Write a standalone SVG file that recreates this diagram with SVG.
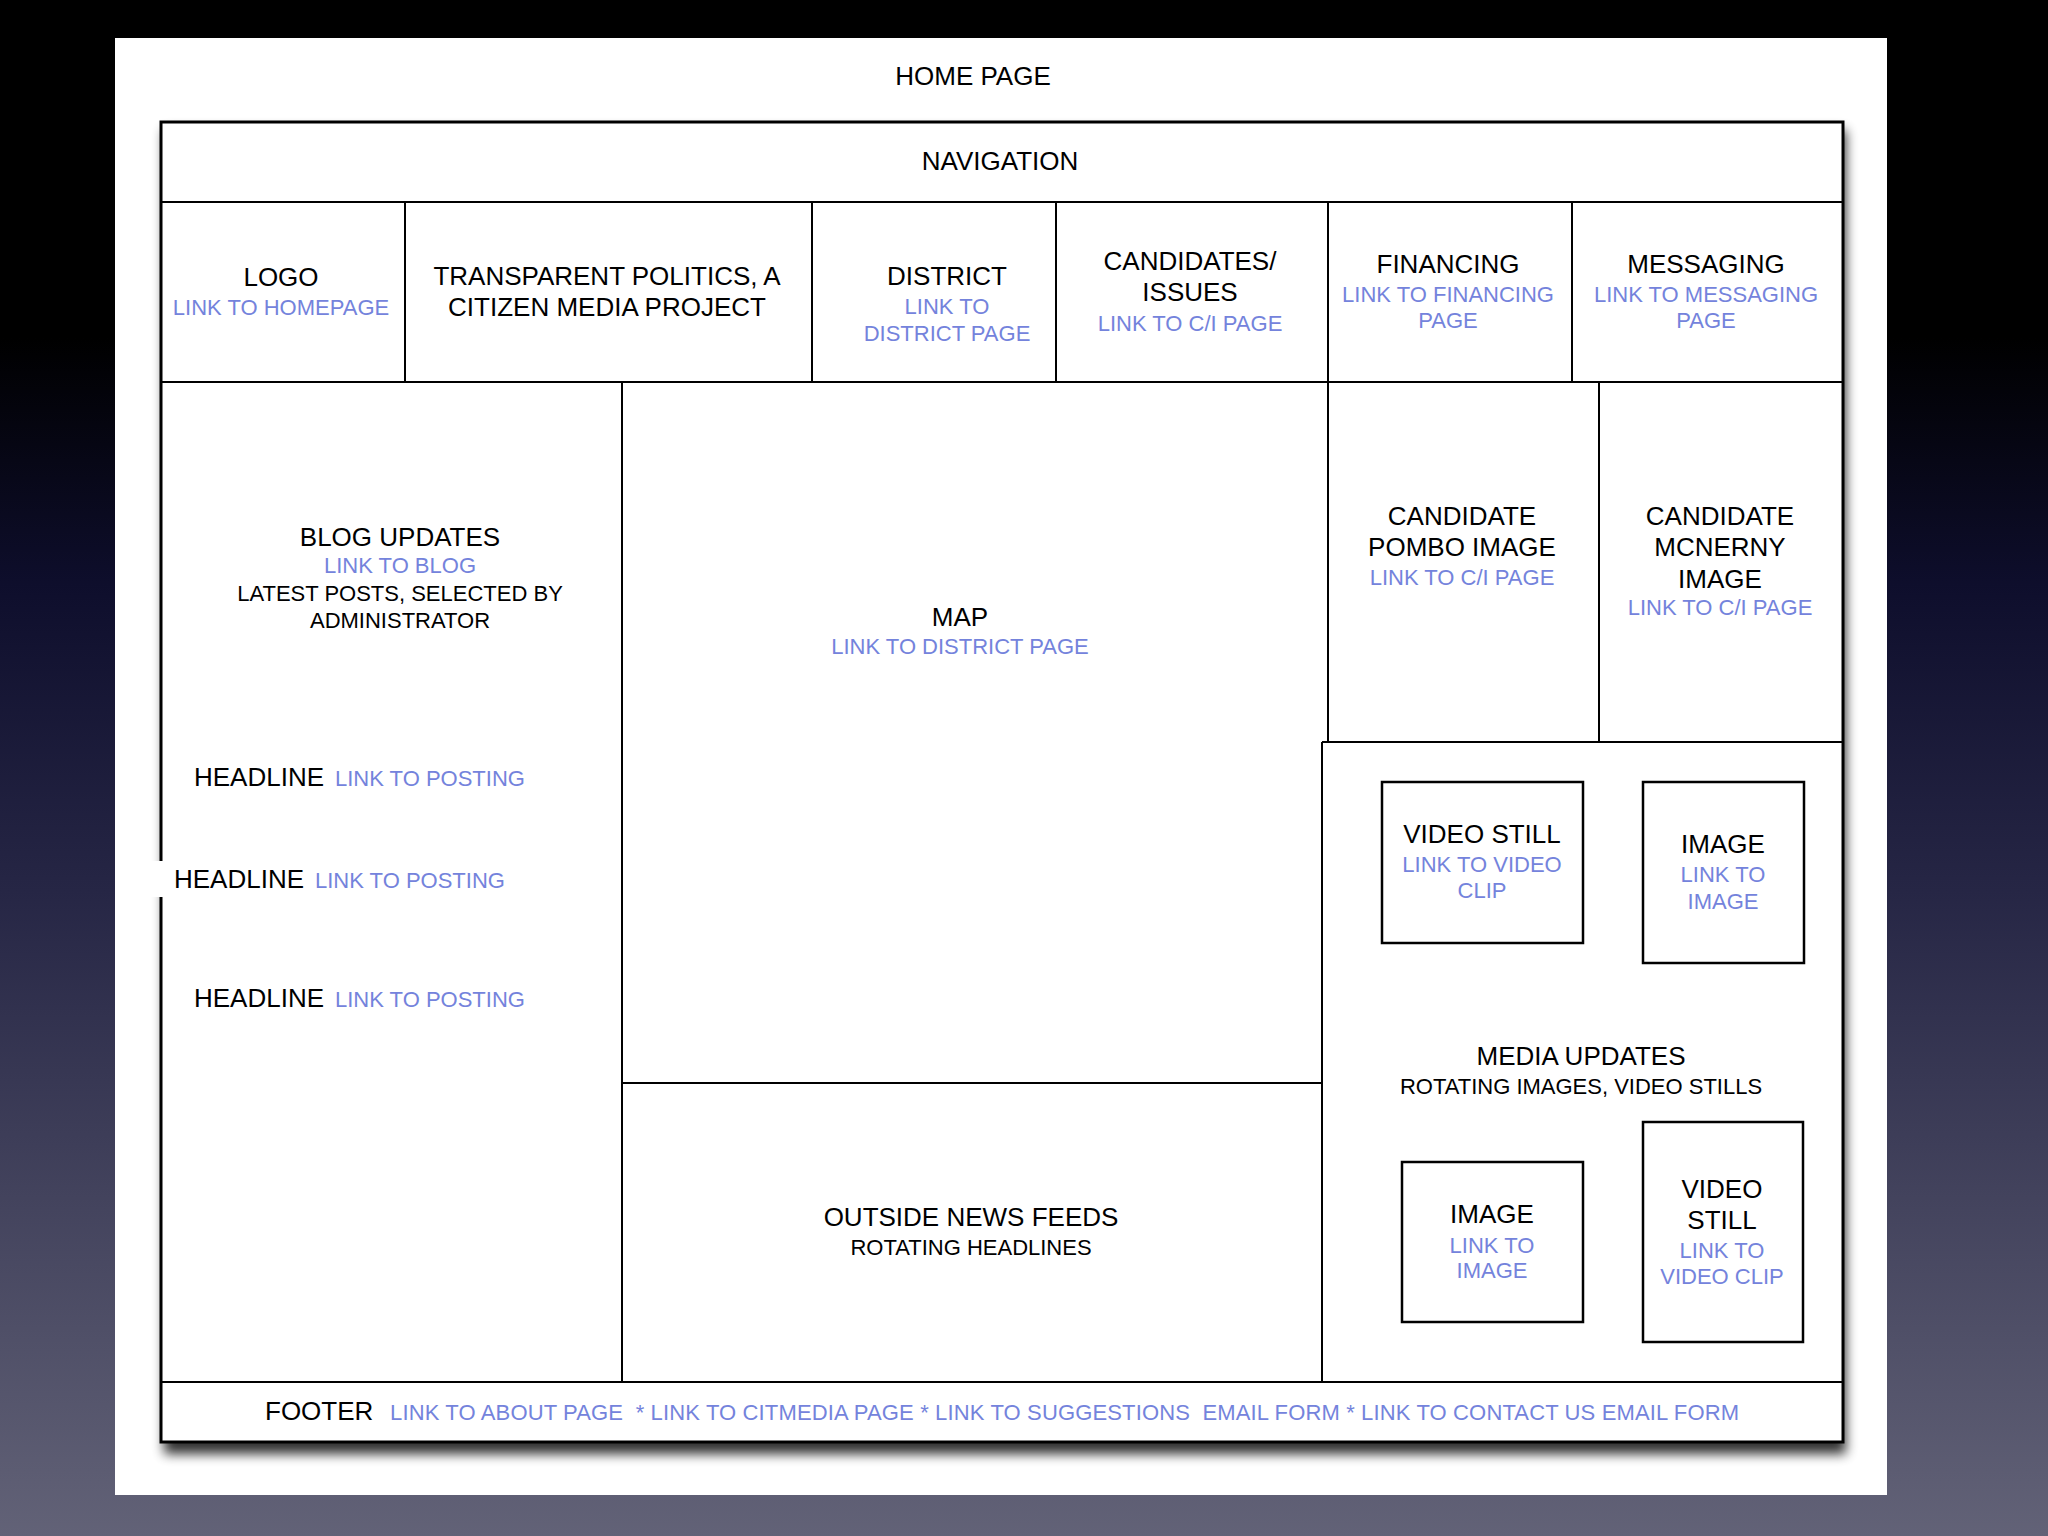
<svg xmlns="http://www.w3.org/2000/svg" width="2048" height="1536" viewBox="0 0 2048 1536">
<defs>
<linearGradient id="bg" x1="0" y1="0" x2="0" y2="1">
<stop offset="0" stop-color="#000000"/>
<stop offset="0.22" stop-color="#000000"/>
<stop offset="0.38" stop-color="#0e0e2c"/>
<stop offset="0.58" stop-color="#262645"/>
<stop offset="0.78" stop-color="#43435d"/>
<stop offset="1" stop-color="#626277"/>
</linearGradient>
<filter id="shadow" x="-5%" y="-5%" width="110%" height="112%">
<feGaussianBlur stdDeviation="6"/>
</filter>
<style>
text{font-family:"Liberation Sans",Arial,Helvetica,sans-serif;text-anchor:middle;fill:#000}
.t{font-size:26px}
.s{font-size:22px}
.l{font-size:22px;fill:#7483dc}
.st{text-anchor:start}
.ln{stroke:#000;stroke-width:2;fill:none}
.box{stroke:#000;stroke-width:2.5;fill:#fff}
</style>
</defs>
<rect x="0" y="0" width="2048" height="1536" fill="url(#bg)"/>
<rect x="115" y="38" width="1772" height="1457" fill="#fff"/>
<rect x="164" y="130" width="1682" height="1324" fill="#000" opacity="0.8" filter="url(#shadow)"/>
<rect id="frame" x="161" y="122" width="1682" height="1320" fill="#fff" stroke="#000" stroke-width="3"/>

<g id="connectors">
<line class="ln" x1="161" y1="202" x2="1843" y2="202"/>
<line class="ln" x1="161" y1="382" x2="1843" y2="382"/>
<line class="ln" x1="405" y1="202" x2="405" y2="382"/>
<line class="ln" x1="812" y1="202" x2="812" y2="382"/>
<line class="ln" x1="1056" y1="202" x2="1056" y2="382"/>
<line class="ln" x1="1328" y1="202" x2="1328" y2="382"/>
<line class="ln" x1="1572" y1="202" x2="1572" y2="382"/>
<line class="ln" x1="622" y1="382" x2="622" y2="1382"/>
<line class="ln" x1="622" y1="1083" x2="1322" y2="1083"/>
<line class="ln" x1="1328" y1="382" x2="1328" y2="742"/>
<line class="ln" x1="1599" y1="382" x2="1599" y2="742"/>
<line class="ln" x1="1322" y1="742" x2="1843" y2="742"/>
<line class="ln" x1="1322" y1="742" x2="1322" y2="1382"/>
<line class="ln" x1="161" y1="1382" x2="1843" y2="1382"/>
</g>

<g id="title"><text class="t" x="973" y="85">HOME PAGE</text></g>
<g id="navigation"><text class="t" x="1000" y="170">NAVIGATION</text></g>
<g id="logo"><text class="t" x="281" y="286">LOGO</text><text class="l" x="281" y="315">LINK TO HOMEPAGE</text></g>
<g id="project"><text class="t" x="607" y="285">TRANSPARENT POLITICS, A</text><text class="t" x="607" y="316">CITIZEN MEDIA PROJECT</text></g>
<g id="district"><text class="t" x="947" y="285">DISTRICT</text><text class="l" x="947" y="314">LINK TO</text><text class="l" x="947" y="341">DISTRICT PAGE</text></g>
<g id="candidates"><text class="t" x="1190" y="270">CANDIDATES/</text><text class="t" x="1190" y="301">ISSUES</text><text class="l" x="1190" y="331">LINK TO C/I PAGE</text></g>
<g id="financing"><text class="t" x="1448" y="273">FINANCING</text><text class="l" x="1448" y="302">LINK TO FINANCING</text><text class="l" x="1448" y="328">PAGE</text></g>
<g id="messaging"><text class="t" x="1706" y="273">MESSAGING</text><text class="l" x="1706" y="302">LINK TO MESSAGING</text><text class="l" x="1706" y="328">PAGE</text></g>

<g id="blog">
<text class="t" x="400" y="546">BLOG UPDATES</text>
<text class="l" x="400" y="573">LINK TO BLOG</text>
<text class="s" x="400" y="601">LATEST POSTS, SELECTED BY</text>
<text class="s" x="400" y="628">ADMINISTRATOR</text>
</g>
<g id="headline1"><text class="t st" x="194" y="786">HEADLINE</text><text class="l st" x="335" y="786">LINK TO POSTING</text></g>
<g id="headline2"><rect x="150" y="861" width="13" height="36" fill="#fff"/><text class="t st" x="174" y="888">HEADLINE</text><text class="l st" x="315" y="888">LINK TO POSTING</text></g>
<g id="headline3"><text class="t st" x="194" y="1007">HEADLINE</text><text class="l st" x="335" y="1007">LINK TO POSTING</text></g>

<g id="map"><text class="t" x="960" y="626">MAP</text><text class="l" x="960" y="654">LINK TO DISTRICT PAGE</text></g>
<g id="pombo"><text class="t" x="1462" y="525">CANDIDATE</text><text class="t" x="1462" y="556">POMBO IMAGE</text><text class="l" x="1462" y="585">LINK TO C/I PAGE</text></g>
<g id="mcnerny"><text class="t" x="1720" y="525">CANDIDATE</text><text class="t" x="1720" y="556">MCNERNY</text><text class="t" x="1720" y="588">IMAGE</text><text class="l" x="1720" y="615">LINK TO C/I PAGE</text></g>

<g id="news"><text class="t" x="971" y="1226">OUTSIDE NEWS FEEDS</text><text class="s" x="971" y="1255">ROTATING HEADLINES</text></g>

<g id="media"><text class="t" x="1581" y="1065">MEDIA UPDATES</text><text class="s" x="1581" y="1094">ROTATING IMAGES, VIDEO STILLS</text></g>
<g id="video1"><rect class="box" x="1382" y="782" width="201" height="161"/><text class="t" x="1482" y="843">VIDEO STILL</text><text class="l" x="1482" y="872">LINK TO VIDEO</text><text class="l" x="1482" y="898">CLIP</text></g>
<g id="image1"><rect class="box" x="1643" y="782" width="161" height="181"/><text class="t" x="1723" y="853">IMAGE</text><text class="l" x="1723" y="882">LINK TO</text><text class="l" x="1723" y="909">IMAGE</text></g>
<g id="image2"><rect class="box" x="1402" y="1162" width="181" height="160"/><text class="t" x="1492" y="1223">IMAGE</text><text class="l" x="1492" y="1253">LINK TO</text><text class="l" x="1492" y="1278">IMAGE</text></g>
<g id="video2"><rect class="box" x="1643" y="1122" width="160" height="220"/><text class="t" x="1722" y="1198">VIDEO</text><text class="t" x="1722" y="1229">STILL</text><text class="l" x="1722" y="1258">LINK TO</text><text class="l" x="1722" y="1284">VIDEO CLIP</text></g>

<g id="footer"><text class="t st" x="265" y="1420">FOOTER</text><text class="l st" x="390" y="1420" textLength="1349" lengthAdjust="spacing" xml:space="preserve">LINK TO ABOUT PAGE  * LINK TO CITMEDIA PAGE * LINK TO SUGGESTIONS  EMAIL FORM * LINK TO CONTACT US EMAIL FORM</text></g>
</svg>
